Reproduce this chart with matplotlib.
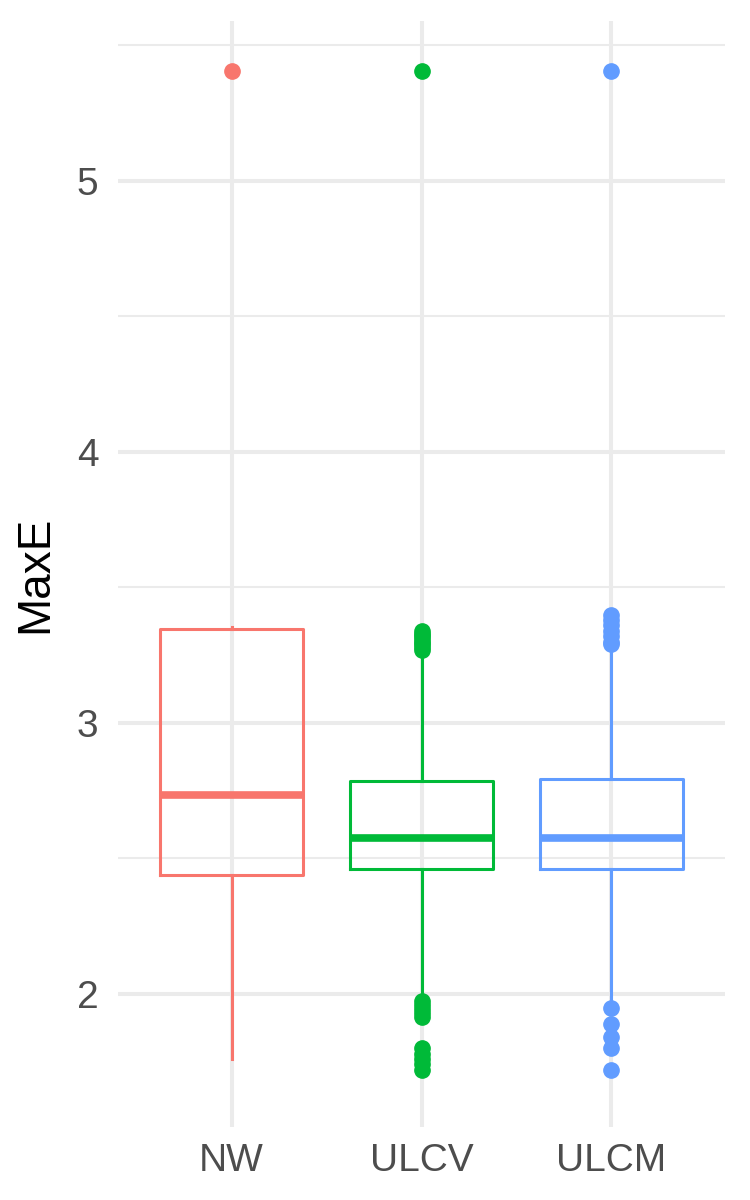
import matplotlib
matplotlib.use("Agg")
import matplotlib.pyplot as plt
from matplotlib.ticker import MultipleLocator

# Daten
groups = ["NW", "ULCV", "ULCM"]
colors = ["#F8766D", "#00BA38", "#619CFF"]

q1 = [2.44, 2.46, 2.46]
med = [2.735, 2.576, 2.577]
q3 = [3.345, 2.786, 2.792]
whis_lo = [1.76, 2.00, 1.98]
whis_hi = [3.355, 3.26, 3.28]

out_nw = [5.406]
out_ulcv = [5.406, 3.27, 3.28, 3.29, 3.30, 3.31, 3.32, 3.33, 3.34,
            1.975, 1.96, 1.945, 1.93, 1.915, 1.80, 1.78, 1.76, 1.74, 1.72]
out_ulcm = [5.406, 3.29, 3.30, 3.32, 3.34, 3.36, 3.38, 3.40,
            1.95, 1.89, 1.84, 1.80, 1.72]
outliers = [out_nw, out_ulcv, out_ulcm]

plt.rcParams['font.family'] = ['Liberation Sans', 'DejaVu Sans']

fig = plt.figure(figsize=(7.5, 12), dpi=100)
ax = fig.add_axes([0.157, 0.061, 0.81, 0.9215])

# Gitter wie ggplot theme_minimal
ax.yaxis.set_major_locator(MultipleLocator(1))
ax.yaxis.set_minor_locator(MultipleLocator(0.5))
ax.grid(which='major', axis='both', color='#EBEBEB', linewidth=2.9)
ax.grid(which='minor', axis='y', color='#EBEBEB', linewidth=1.45)
ax.set_axisbelow(True)

for i in range(len(groups)):
    stats = [dict(med=med[i], q1=q1[i], q3=q3[i], whislo=whis_lo[i],
                  whishi=whis_hi[i], fliers=outliers[i], label=groups[i])]
    c = colors[i]
    ax.bxp(stats, positions=[i + 1], widths=0.75, showcaps=False,
           boxprops=dict(color=c, linewidth=2.2),
           whiskerprops=dict(color=c, linewidth=2.2),
           medianprops=dict(color=c, linewidth=5.5, solid_capstyle='butt'),
           flierprops=dict(marker='o', markerfacecolor=c, markeredgecolor=c,
                           markersize=11, linestyle='none'))

ax.set_xlim(0.4, 3.6)
ax.set_ylim(1.51, 5.59)
ax.set_xticks([1, 2, 3])
ax.set_xticklabels(groups)
ax.set_yticks([2, 3, 4, 5])
ax.set_yticklabels(["2", "3", "4", "5"])

for s in ax.spines.values():
    s.set_visible(False)
ax.tick_params(which='both', length=0, labelsize=28, labelcolor='#4D4D4D')
ax.tick_params(axis='y', pad=14)
ax.tick_params(axis='x', pad=12)
ax.set_ylabel("MaxE", fontsize=33, color='black', labelpad=14)

fig.savefig("out.png", dpi=100)
